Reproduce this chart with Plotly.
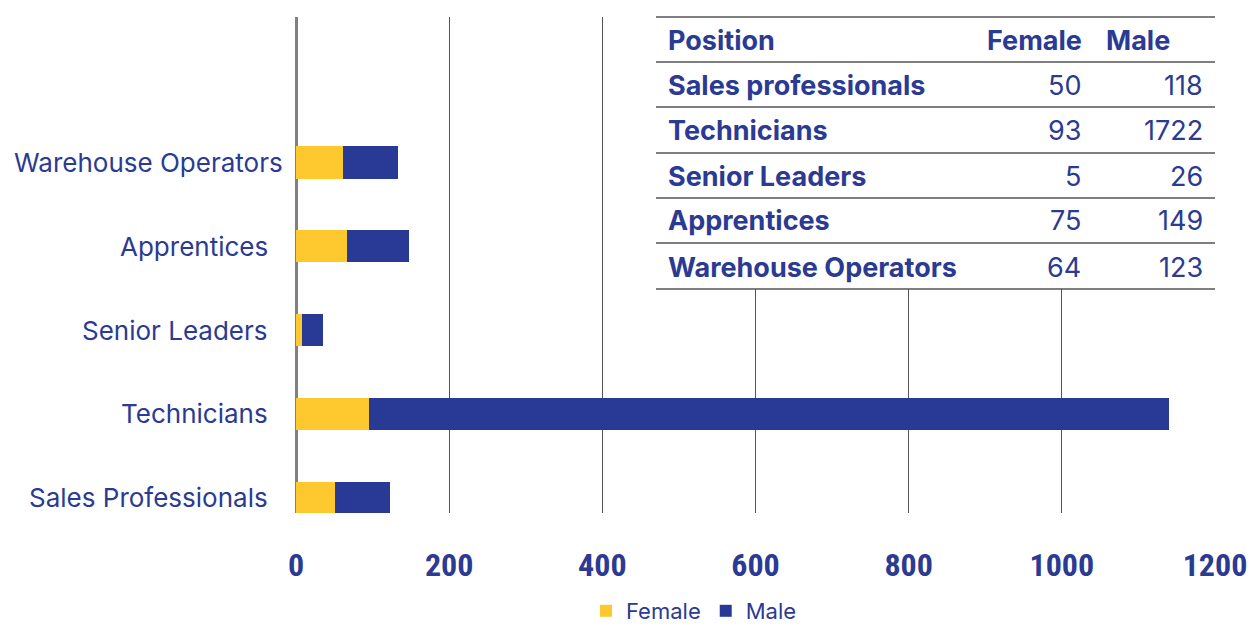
import plotly.graph_objects as go

# Bar chart data
categories = ["Sales Professionals", "Technicians", "Senior Leaders", "Apprentices", "Warehouse Operators"]
female = [51, 95, 8, 67, 61]
male = [72, 1045, 27, 81, 72]
x_ticks = [0, 200, 400, 600, 800, 1000, 1200]

# Table data
table_header = ["Position", "Female", "Male"]
table_positions = ["Sales professionals", "Technicians", "Senior Leaders", "Apprentices", "Warehouse Operators"]
table_female = [50, 93, 5, 75, 64]
table_male = [118, 1722, 26, 149, 123]

BLUE = "#283a96"
YELLOW = "#fec82f"
TXT = "#2b3a92"
FONT = "Inter, Roboto, sans-serif"

W, H = 1252, 627
ML, MR, MT, MB = 296, 37, 17, 114
PW = W - ML - MR
PH = H - MT - MB

def px(x):
    return (x - ML) / PW

def py(y):
    return (H - MB - y) / PH

fig = go.Figure()
fig.add_trace(go.Bar(y=categories, x=female, name="Female", orientation="h",
                     marker=dict(color=YELLOW, line=dict(width=0)), width=0.39))
fig.add_trace(go.Bar(y=categories, x=male, name="Male", orientation="h",
                     marker=dict(color=BLUE, line=dict(width=0)), width=0.39))

shapes = []
annotations = []
# category labels (as annotations so the long one can overhang like the reference)
for c in categories:
    right = 285 if c == "Warehouse Operators" else 270
    annotations.append(dict(text=c, x=px(right), y=c, xref="paper", yref="y", xanchor="right",
                            yanchor="middle", showarrow=False, font=dict(size=26, color=TXT, family=FONT)))

# table background
shapes.append(dict(type="rect", xref="paper", yref="paper", x0=px(656), x1=px(1216),
                   y0=py(289), y1=py(10), fillcolor="white", line=dict(width=0), layer="above"))
line_ys = [17, 62, 107, 153, 198, 243, 289]
for ly in line_ys:
    shapes.append(dict(type="line", xref="paper", yref="paper", x0=px(656), x1=px(1215),
                       y0=py(ly), y1=py(ly), line=dict(color="#555555", width=1.6), layer="above"))

row_ys = [40, 85, 130, 176, 221, 267]
fs = 27
def ann(text, x, y, anchor):
    annotations.append(dict(text=text, x=px(x), y=py(y), xref="paper", yref="paper",
                            xanchor=anchor, yanchor="middle", showarrow=False,
                            font=dict(size=fs, color=TXT, family=FONT)))

ann("<b>" + table_header[0] + "</b>", 666, row_ys[0], "left")
ann("<b>" + table_header[1] + "</b>", 1084, row_ys[0], "right")
ann("<b>" + table_header[2] + "</b>", 1104, row_ys[0], "left")
for i, (p, f, m) in enumerate(zip(table_positions, table_female, table_male)):
    ann("<b>" + p + "</b>", 666, row_ys[i + 1], "left")
    ann(str(f), 1083, row_ys[i + 1], "right")
    ann(str(m), 1205, row_ys[i + 1], "right")

fig.update_layout(
    width=W, height=H,
    margin=dict(l=ML, r=MR, t=MT, b=MB, pad=0, autoexpand=False),
    barmode="stack",
    plot_bgcolor="white", paper_bgcolor="white",
    xaxis=dict(range=[0, 1200], tickvals=x_ticks, showgrid=True, gridcolor="#555555", gridwidth=1.2,
               zeroline=True, zerolinecolor="#808080", zerolinewidth=2.5,
               tickfont=dict(size=32, color=TXT,
                             family="Roboto Condensed, Liberation Sans Narrow, DejaVu Sans Condensed, Roboto, sans-serif",
                             weight="bold"),
               ticklabelstandoff=30, showline=False, fixedrange=True),
    yaxis=dict(range=[-0.18, 5.73], showticklabels=False, showgrid=False, showline=False, fixedrange=True),
    legend=dict(orientation="h", x=px(694), xanchor="center", y=py(611), yanchor="middle",
                font=dict(size=22, color=TXT, family=FONT), traceorder="normal", itemwidth=30,
                bgcolor="rgba(0,0,0,0)"),
    shapes=shapes,
    annotations=annotations,
)

fig.write_html("out.html", config={"displayModeBar": False},
               post_script="document.body.style.margin='0';document.body.style.padding='0';")
